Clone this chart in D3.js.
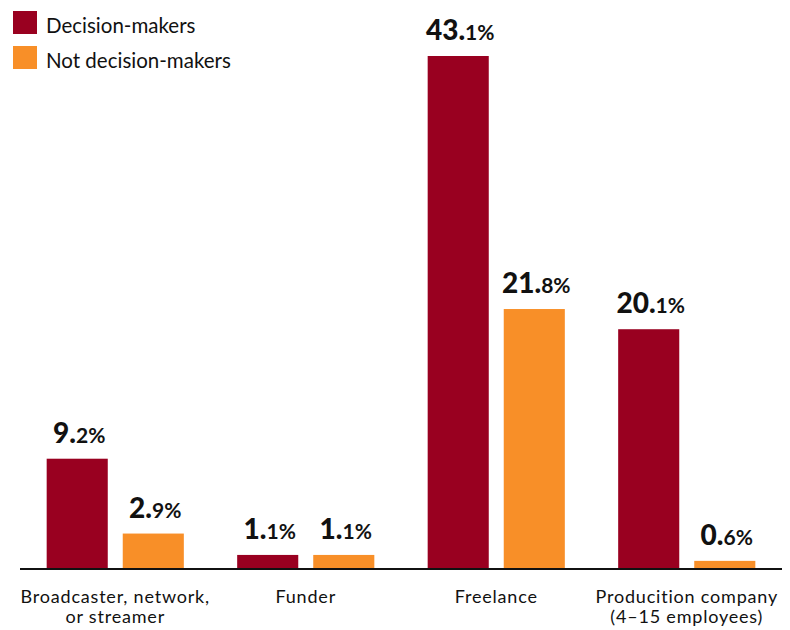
<!DOCTYPE html>
<html>
<head>
<meta charset="utf-8">
<script src="https://cdn.jsdelivr.net/npm/d3@7/dist/d3.min.js"></script>
<style>
  html, body { margin: 0; padding: 0; background: #fff; }
  svg { display: block; font-family: Lato, "Noto Sans", sans-serif; }
</style>
</head>
<body>
<svg id="chart" width="790" height="630"></svg>
<script>
// Share of respondents by employer type
const categories = [
  ["Broadcaster, network,", "or streamer"],
  ["Funder"],
  ["Freelance"],
  ["Producition company", "(4\u201315 employees)"]
];
const seriesNames = ["Decision-makers", "Not decision-makers"];
const decisionMakers = [9.2, 1.1, 43.1, 20.1];
const notDecisionMakers = [2.9, 1.1, 21.8, 0.6];
const colors = ["#990020", "#f88f28"];

const svg = d3.select("#chart");
const baseline = 568;

const catKeys = categories.map((c, i) => i);
const x0 = d3.scaleBand()
  .domain(catKeys)
  .range([20, 782])
  .paddingInner(0.28)
  .paddingOuter(0.14);

const x1 = d3.scaleBand()
  .domain([0, 1])
  .range([0, x0.bandwidth()])
  .paddingInner(0.197)
  .paddingOuter(0);

const y = d3.scaleLinear()
  .domain([0, d3.max(decisionMakers)])
  .range([baseline, 56]);

const rows = catKeys.map(i => ({
  cat: i,
  values: [decisionMakers[i], notDecisionMakers[i]]
}));

const groups = svg.selectAll("g.group")
  .data(rows)
  .join("g")
  .attr("class", "group")
  .attr("transform", d => `translate(${x0(d.cat)},0)`);

const cells = groups.selectAll("g.cell")
  .data(d => d.values.map((v, s) => ({ v, s })))
  .join("g")
  .attr("class", "cell");

cells.append("rect")
  .attr("x", d => x1(d.s))
  .attr("width", x1.bandwidth())
  .attr("y", d => y(d.v))
  .attr("height", d => baseline - y(d.v))
  .attr("fill", d => colors[d.s]);

// Value labels: whole part large and bold, decimal part smaller
const labels = cells.append("text")
  .attr("x", d => x1(d.s) + x1.bandwidth() / 2 + 2)
  .attr("y", d => y(d.v) - 16)
  .attr("text-anchor", "middle")
  .attr("fill", "#111");

labels.append("tspan")
  .attr("font-size", 28)
  .attr("font-weight", 900)
  .text(d => d.v.toFixed(1).split(".")[0] + ".");
labels.append("tspan")
  .attr("font-size", 21)
  .attr("font-weight", 700)
  .text(d => d.v.toFixed(1).split(".")[1] + "%");

// Baseline axis
const xAxis = d3.axisBottom(x0).tickSize(0).tickFormat("");
const axisG = svg.append("g")
  .attr("transform", `translate(0,${baseline + 1})`)
  .call(xAxis);
axisG.select(".domain")
  .attr("stroke", "#111")
  .attr("stroke-width", 2)
  .attr("d", "M20,0H782");

// Category labels, one text per line
const catLines = [];
categories.forEach((lines, i) => lines.forEach((t, j) => catLines.push({ i, j, t })));

svg.selectAll("text.cat")
  .data(catLines)
  .join("text")
  .attr("class", "cat")
  .attr("text-anchor", "middle")
  .attr("font-size", 18)
  .attr("letter-spacing", 0.8)
  .attr("fill", "#111")
  .attr("x", d => x0(d.i) + x0.bandwidth() / 2)
  .attr("y", d => 603 + d.j * 20)
  .text(d => d.t);

// Legend
const legend = svg.selectAll("g.legend")
  .data(seriesNames)
  .join("g")
  .attr("class", "legend")
  .attr("transform", (d, i) => `translate(13,${11 + i * 35})`);

legend.append("rect")
  .attr("width", 24)
  .attr("height", 23)
  .attr("fill", (d, i) => colors[i]);

legend.append("text")
  .attr("x", 33)
  .attr("y", 22)
  .attr("font-size", 20.5)
  .attr("fill", "#111")
  .text(d => d);
</script>
</body>
</html>
